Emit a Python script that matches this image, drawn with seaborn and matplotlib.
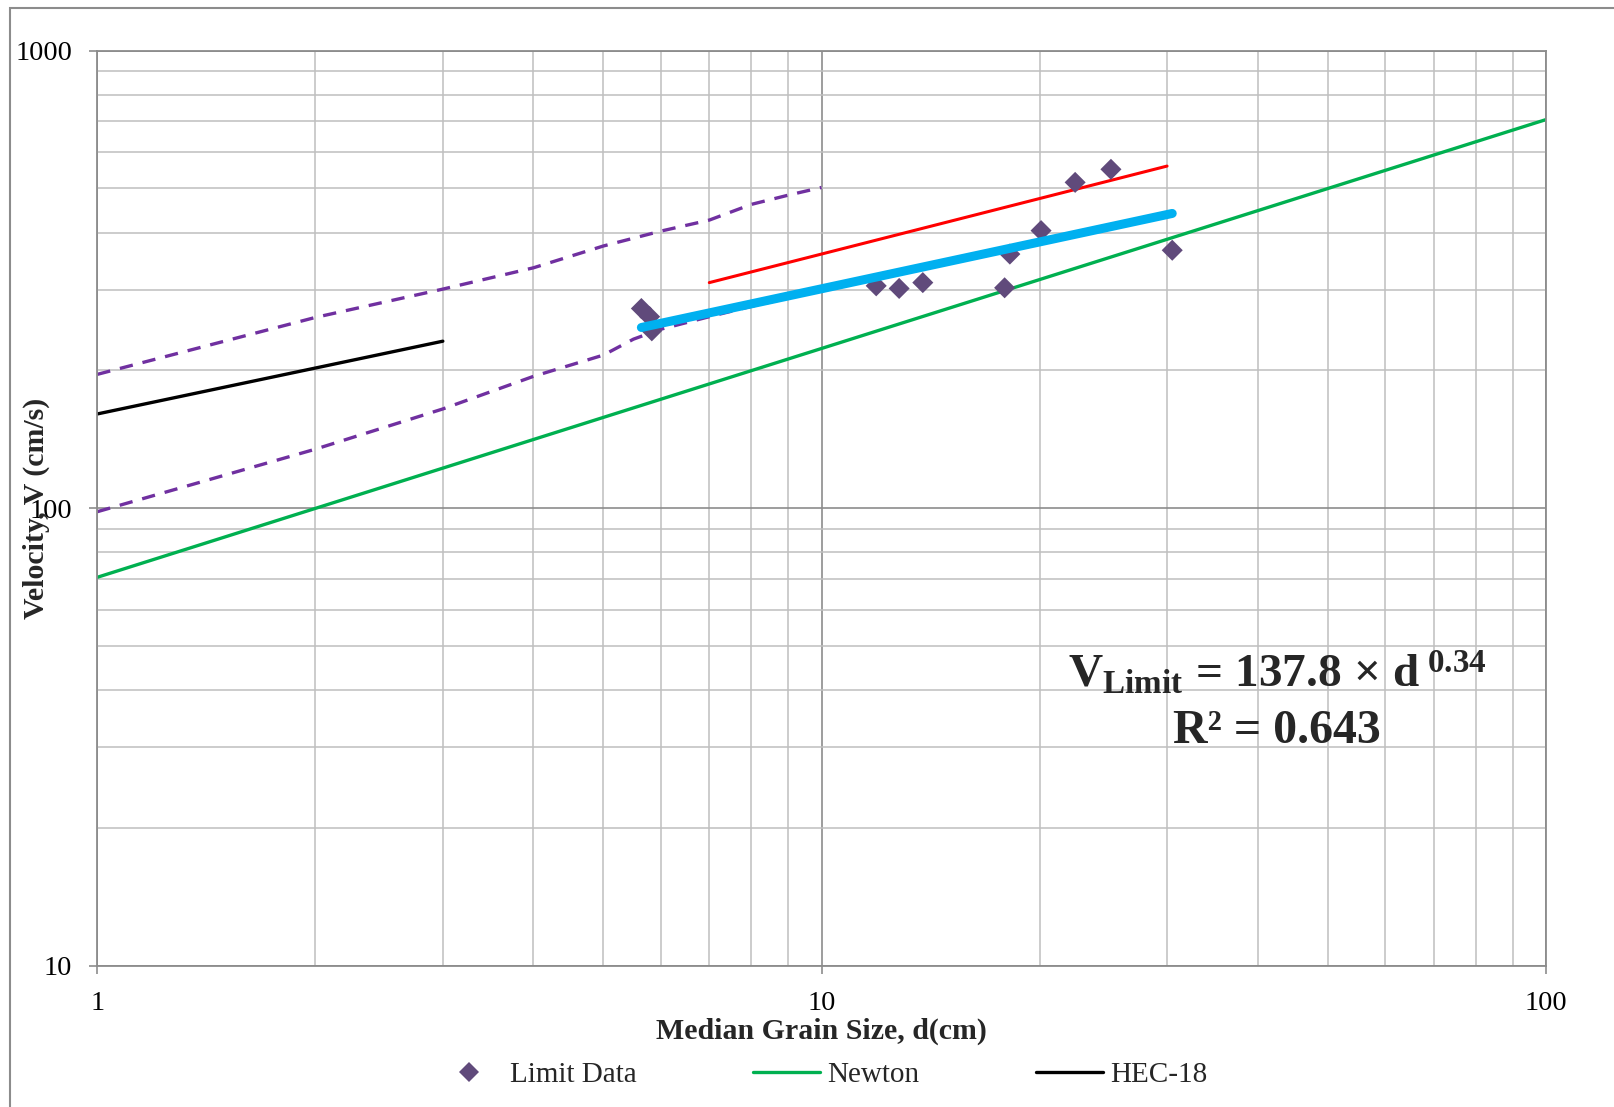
import numpy as np
import pandas as pd
import matplotlib
matplotlib.use('Agg')
import matplotlib.pyplot as plt
import seaborn as sns
from matplotlib.ticker import FixedLocator, FixedFormatter, NullFormatter
from matplotlib.lines import Line2D
from matplotlib.patches import Rectangle

# ---------------- data ----------------
limit_d = [5.64, 5.79, 5.83, 11.9, 12.8, 13.8, 17.9, 18.2, 20.1, 22.4, 25.1, 30.5]
limit_v = [273, 262, 244, 306, 302, 311, 303, 359, 404, 515, 550, 366]

newton_d = [1, 100]
newton_v = [70.6, 706]

hec18_d = [1, 3]
hec18_v = [160.6, 231.6]

upper_band_d = [1, 2, 3, 4, 5, 6, 7, 8, 9, 10]
upper_band_v = [196, 261, 301, 335, 374, 403, 426, 461, 483, 502]

lower_band_d = [1, 2, 3, 4, 5, 5.5, 6, 7, 8, 9, 10]
lower_band_v = [98.2, 134.5, 164.7, 194, 216, 234, 246, 262, 276, 288, 299]

upper_fit_d = [7.0, 30.0]
upper_fit_v = [311, 559]

fit_coef = 137.8
fit_exp = 0.34
r_squared = 0.643

x_ticks = [1, 10, 100]
x_tick_labels = ["1", "10", "100"]
y_ticks = [10, 100, 1000]
y_tick_labels = ["10", "100", "1000"]

# ---------------- style ----------------
sns.set_theme(style="white")
plt.rcParams['font.family'] = ['Liberation Serif', 'DejaVu Serif']
plt.rcParams['mathtext.fontset'] = 'custom'
plt.rcParams['mathtext.rm'] = 'Liberation Serif'
plt.rcParams['mathtext.bf'] = 'Liberation Serif:bold'
plt.rcParams['mathtext.it'] = 'Liberation Serif:italic'

W, H = 1614, 1107
fig = plt.figure(figsize=(W / 100, H / 100), dpi=100)
fig.patch.set_facecolor('white')
L, R, T, B = 97.3, 1545.7, 50.5, 965.7
ax = fig.add_axes([L / W, 1 - B / H, (R - L) / W, (B - T) / H])
ax.set_xscale('log')
ax.set_yscale('log')
ax.set_xlim(1, 100)
ax.set_ylim(10, 1000)

# grid
minor_x = [m * 10 ** k for k in range(0, 2) for m in range(2, 10)]
minor_y = [m * 10 ** k for k in range(1, 3) for m in range(2, 10)]
ax.xaxis.set_major_locator(FixedLocator(x_ticks))
ax.xaxis.set_major_formatter(FixedFormatter(x_tick_labels))
ax.yaxis.set_major_locator(FixedLocator(y_ticks))
ax.yaxis.set_major_formatter(FixedFormatter(y_tick_labels))
ax.xaxis.set_minor_locator(FixedLocator(minor_x))
ax.yaxis.set_minor_locator(FixedLocator(minor_y))
ax.xaxis.set_minor_formatter(NullFormatter())
ax.yaxis.set_minor_formatter(NullFormatter())
ax.grid(which='minor', color='#BFBFBF', lw=1.1, zorder=0)
ax.grid(which='major', color='#8C8C8C', lw=1.2, zorder=0)
ax.set_axisbelow(True)
for s in ax.spines.values():
    s.set_color('#8C8C8C')
    s.set_linewidth(1.3)
ax.tick_params(which='major', direction='out', length=6, width=1.2, color='#8C8C8C',
               labelsize=20.5, pad=12, labelcolor='black', left=True, bottom=True)
ax.tick_params(which='minor', length=0)

# ---------------- series ----------------
sns.lineplot(x=newton_d, y=newton_v, ax=ax, color='#00B050', lw=2.4,
             estimator=None, sort=False, zorder=2)
sns.lineplot(x=hec18_d, y=hec18_v, ax=ax, color='black', lw=2.4,
             estimator=None, sort=False, zorder=2)
sns.lineplot(x=upper_band_d, y=upper_band_v, ax=ax, color='#7030A0', lw=2.4,
             estimator=None, sort=False, zorder=2, dashes=False, linestyle=(0, (4, 3)))
sns.lineplot(x=lower_band_d, y=lower_band_v, ax=ax, color='#7030A0', lw=2.4,
             estimator=None, sort=False, zorder=2, dashes=False, linestyle=(0, (4, 3)))
sns.lineplot(x=upper_fit_d, y=upper_fit_v, ax=ax, color='#FF0000', lw=2.2,
             estimator=None, sort=False, zorder=3)
sns.scatterplot(x=limit_d, y=limit_v, ax=ax, marker='D', s=115, color='#604A7B',
                edgecolor='none', linewidth=0, zorder=4)
fit_d = np.array([min(limit_d), max(limit_d)])
fit_v = fit_coef * fit_d ** fit_exp
sns.lineplot(x=fit_d, y=fit_v, ax=ax, color='#00B0F0', lw=6.5, estimator=None,
             sort=False, zorder=5, solid_capstyle='round')

# ---------------- labels ----------------
ax.set_xlabel('Median Grain Size, d(cm)', fontsize=21.5, fontweight='bold')
ax.xaxis.set_label_coords(0.5, -0.057)
ax.xaxis.label.set_va('top')
ax.set_ylabel('Velocity, V (cm/s)', fontsize=21.5, fontweight='bold')
ax.yaxis.set_label_coords(-0.033, 0.5)

ax.text(0.8145, 0.3045,
        r'$\mathbf{V_{Limit}\,=\,%.1f\,\times\,d^{\ %.2f}}$' % (fit_coef, fit_exp),
        transform=ax.transAxes, ha='center', va='baseline', fontsize=34, zorder=6)
ax.text(0.8145, 0.2433, 'R² = %.3f' % r_squared, transform=ax.transAxes,
        ha='center', va='baseline', fontsize=34.5, fontweight='bold', zorder=6)

# ---------------- legend ----------------
handles = [
    Line2D([], [], marker='D', ls='none', color='#604A7B', markersize=10.5, markeredgewidth=0),
    Line2D([], [], color='#00B050', lw=2.4),
    Line2D([], [], color='black', lw=2.4),
]
leg = ax.legend(handles, ['Limit Data', 'Newton', 'HEC-18'], loc='center',
                bbox_to_anchor=(0.5, -0.119), ncol=3, frameon=False, fontsize=21,
                handlelength=2.3, handletextpad=0.25, columnspacing=4.0)

# outer chart border (top and left edges visible)
fig.patches.append(Rectangle((10 / W, -0.05), 1.2, 1 - 8 / H + 0.05,
                             transform=fig.transFigure, fill=False,
                             edgecolor='#8C8C8C', lw=1.5, zorder=10))

fig.savefig('out.png', dpi=100, facecolor='white')
